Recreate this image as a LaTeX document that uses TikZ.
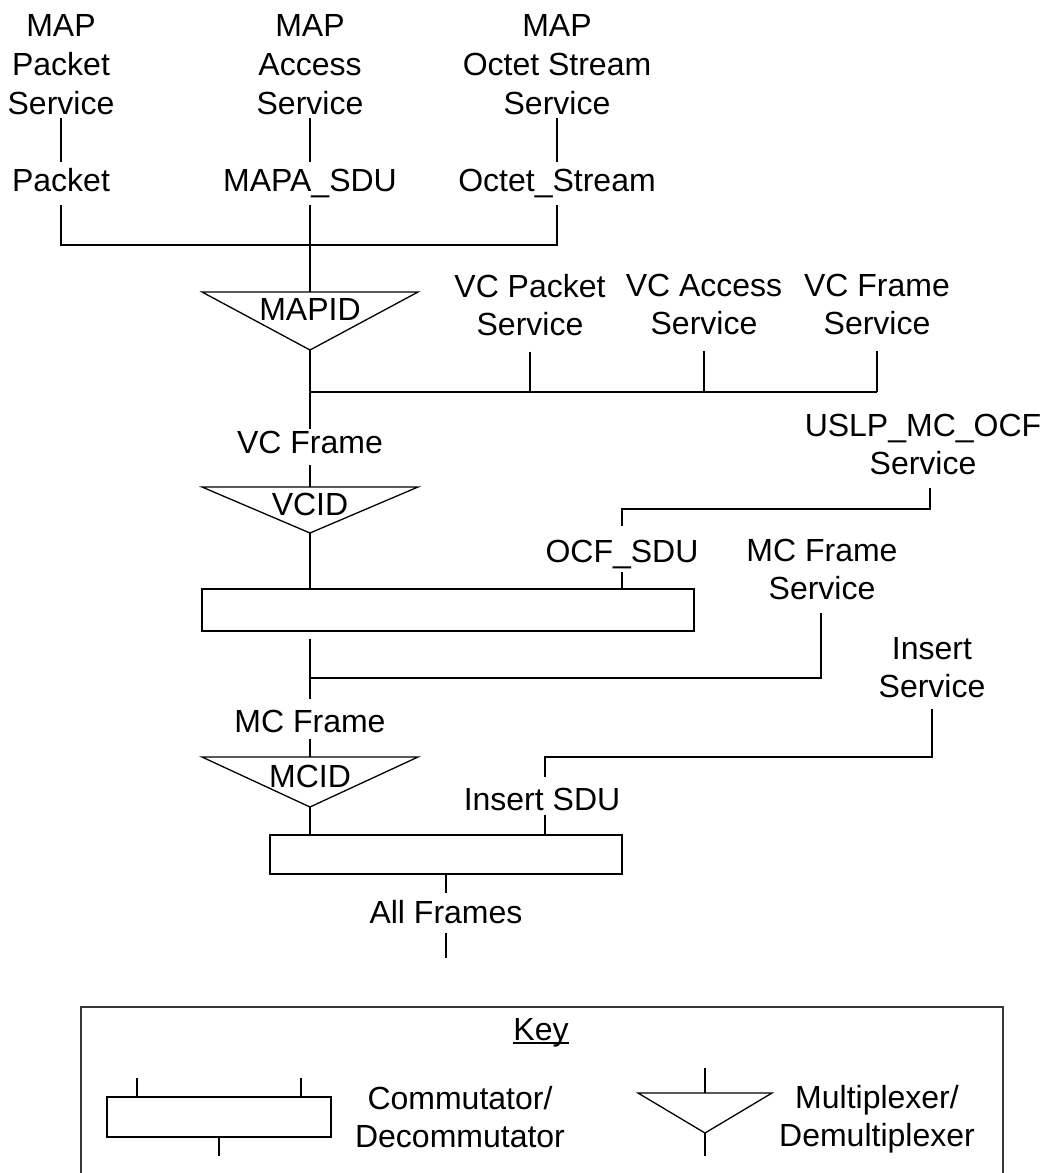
\documentclass[tikz,border=0pt]{standalone}
\usepackage{fontspec}
\setmainfont{Liberation Sans}
\begin{document}
\begin{tikzpicture}[x=1pt,y=-1pt,
  ln/.style={line width=1.3pt},
  txt/.style={inner sep=0pt, outer sep=0pt, font=\fontsize{32}{38}\selectfont, align=center},
  ml/.style={txt, anchor=north},
  mltop/.style={txt, anchor=north, font=\fontsize{32}{39}\selectfont},
  sl/.style={txt, anchor=base},
  bx/.style={draw, line width=1.3pt, inner sep=0pt, outer sep=0pt, anchor=north west},
  tri/.style={line width=1.3pt, line join=miter}]
\useasboundingbox (0,0) rectangle (1051,1173);

% ---- top services
\node[mltop] (mapP) at (61,14)  {MAP\\Packet\\Service};
\node[mltop] (mapA) at (310,14) {MAP\\Access\\Service};
\node[mltop] (mapO) at (557,14) {MAP\\Octet Stream\\Service};
\node[sl] (lblP) at (61,191)  {Packet};
\node[sl] (lblA) at (310,191) {MAPA\_SDU};
\node[sl] (lblO) at (557,191) {Octet\_Stream};
\draw[ln, shorten <=4pt, shorten >=29pt] (mapP.south) -- (lblP.base);
\draw[ln, shorten <=4pt, shorten >=29pt] (mapA.south) -- (lblA.base);
\draw[ln, shorten <=4pt, shorten >=29pt] (mapO.south) -- (lblO.base);

\coordinate (bP) at (61,245);
\coordinate (bO) at (557,245);
\draw[ln, shorten <=14pt, shorten >=14pt] (lblP.base) -- (bP) -- (bO) -- (lblO.base);

% ---- MAPID multiplexer
\coordinate (m1)  at (310,292);
\coordinate (m1L) at (202,292);
\coordinate (m1R) at (418,292);
\coordinate (m1B) at (310,350);
\draw[ln, shorten <=14pt] (lblA.base) -- (m1);
\draw[tri] (m1L) -- (m1R) -- (m1B) -- cycle;
\node[sl] (mapid) at (310,320) {MAPID};

% ---- VC services
\node[ml] (vcP) at (530,274) {VC Packet\\Service};
\node[ml] (vcA) at (704,274) {VC Access\\Service};
\node[ml] (vcF) at (877,274) {VC Frame\\Service};
\coordinate (vb0) at (310,392);
\coordinate (vbF) at (877,392);
\draw[ln] (m1B) -- (vb0) -- (vbF);
\draw[ln, shorten <=16pt] (vcP.south) -- (vcP.south |- vb0);
\draw[ln, shorten <=16pt] (vcA.south) -- (vcA.south |- vb0);
\draw[ln, shorten <=16pt] (vcF.south) -- (vcF.south |- vb0);

\node[sl] (vcfr) at (310,453) {VC Frame};
\draw[ln, shorten >=24pt] (vb0) -- (vcfr.base);

% ---- VCID multiplexer
\coordinate (v1)  at (310,487);
\coordinate (v1L) at (202,487);
\coordinate (v1R) at (418,487);
\coordinate (v1B) at (310,533);
\draw[ln, shorten <=12pt] (vcfr.base) -- (v1);
\draw[tri] (v1L) -- (v1R) -- (v1B) -- cycle;
\node[sl] (vcid) at (310,515) {VCID};

% ---- commutator 1
\node[bx, minimum width=492pt, minimum height=42pt] (box1) at (202,589) {};
\draw[ln] (v1B) -- (v1B |- box1.north);

\node[sl] (ocf) at (622,562) {OCF\_SDU};
\node[ml] (uslp) at (923,414) {USLP\_MC\_OCF\\Service};
\coordinate (ot) at (622,572);
\coordinate (ob) at (622,526);
\coordinate (o1) at (622,509);
\coordinate (o2) at (930,509);
\draw[ln] (ot) -- (ot |- box1.north);
\draw[ln, shorten >=13pt] (ob) -- (o1) -- (o2) -- (o2 |- uslp.south);

% ---- MC frame service
\node[ml] (mcfs) at (822,539) {MC Frame\\Service};
\node[sl] (mcfr) at (310,732) {MC Frame};
\coordinate (j2)  at (310,678);
\coordinate (j2R) at (821,678);
\draw[ln, shorten <=8pt, shorten >=33pt] (box1.south -| v1B) -- (mcfr.base);
\draw[ln, shorten >=13pt] (j2) -- (j2R) -- (j2R |- mcfs.south);

% ---- MCID multiplexer
\coordinate (c1)  at (310,757);
\coordinate (c1L) at (202,757);
\coordinate (c1R) at (418,757);
\coordinate (c1B) at (310,807);
\draw[ln, shorten <=7pt] (mcfr.base) -- (c1);
\draw[tri] (c1L) -- (c1R) -- (c1B) -- cycle;
\node[sl] (mcid) at (310,787) {MCID};

% ---- commutator 2
\node[bx, minimum width=352pt, minimum height=39pt] (box2) at (270,835) {};
\draw[ln] (c1B) -- (c1B |- box2.north);

\node[sl] (isdu) at (542,810) {Insert SDU};
\node[ml] (ins) at (932,637) {Insert\\Service};
\coordinate (it) at (545,815);
\coordinate (ib) at (545,777);
\coordinate (i1) at (545,757);
\coordinate (i2) at (932,757);
\draw[ln] (it) -- (it |- box2.north);
\draw[ln, shorten >=12pt] (ib) -- (i1) -- (i2) -- (i2 |- ins.south);

\node[sl] (allf) at (446,923) {All Frames};
\coordinate (endc) at (446,958);
\draw[ln, shorten >=30pt] (box2.south) -- (allf.base);
\draw[ln, shorten <=10pt] (allf.base) -- (endc);

% ---- key
\node[draw=black!78, line width=2pt, inner sep=0pt, outer sep=0pt, anchor=north west,
      minimum width=922pt, minimum height=200pt] (keybox) at (81,1007) {};
\node[sl] (keyl) at (541,1040) {Key};
\draw[line width=1.6pt] ([yshift=-3pt]keyl.base west) -- ([yshift=-3pt]keyl.base east);

\node[bx, minimum width=224pt, minimum height=40pt] (kb) at (107,1097) {};
\coordinate (kt1) at (137,1078);
\coordinate (kt2) at (301,1078);
\coordinate (kt3) at (219,1156);
\draw[ln] (kt1) -- (kt1 |- kb.north);
\draw[ln] (kt2) -- (kt2 |- kb.north);
\draw[ln] (kt3 |- kb.south) -- (kt3);
\node[ml] (comm) at (460,1086) {Commutator/\\Decommutator};

\coordinate (kT)  at (705,1068);
\coordinate (kTL) at (638,1093);
\coordinate (kTR) at (772,1093);
\coordinate (kTB) at (705,1133);
\coordinate (kTE) at (705,1156);
\draw[tri] (kTL) -- (kTR) -- (kTB) -- cycle;
\draw[ln] (kT) -- (kT |- kTL);
\draw[ln] (kTB) -- (kTE);
\node[ml] (mux) at (877,1085) {Multiplexer/\\Demultiplexer};
\end{tikzpicture}
\end{document}
